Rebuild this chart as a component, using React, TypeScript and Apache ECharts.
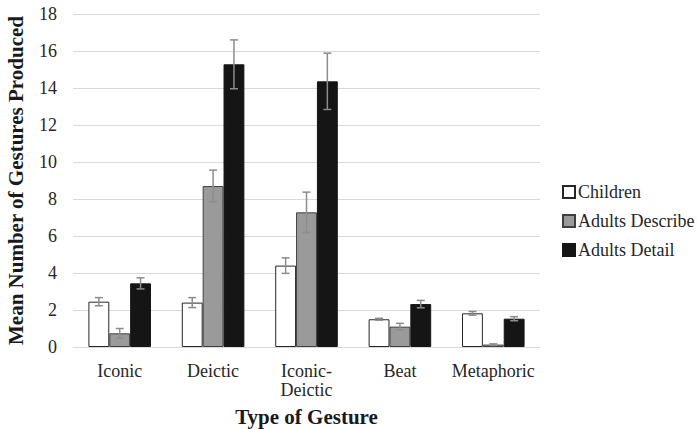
import React, { useEffect, useRef } from "react";
import * as echarts from "echarts";

const categories = ["Iconic", "Deictic", "Iconic-\nDeictic", "Beat", "Metaphoric"];
const seriesNames = ["Children", "Adults Describe", "Adults Detail"];
const children = [2.45, 2.4, 4.4, 1.5, 1.82];
const childrenErr = [0.22, 0.27, 0.42, 0.05, 0.1];
const describe = [0.74, 8.7, 7.28, 1.1, 0.13];
const describeErr = [0.26, 0.86, 1.09, 0.18, 0.04];
const detail = [3.44, 15.28, 14.36, 2.32, 1.53];
const detailErr = [0.3, 1.32, 1.52, 0.2, 0.11];
const yTicks = { min: 0, max: 18, interval: 2 };

const fills = ["#ffffff", "#9a9a9a", "#151515"];
const borders = ["#262626", "#404040", "#151515"];
const FONT = "Times New Roman, Liberation Serif, serif";
const GAP = 0.33;

export default function App() {
  const ref = useRef<HTMLDivElement>(null);
  useEffect(() => {
    if (!ref.current) return;
    const chart = echarts.init(ref.current, undefined, { renderer: "svg" });
    const values = [children, describe, detail];
    const errs = [childrenErr, describeErr, detailErr];
    const barSeries = values.map((v, k) => ({
      name: seriesNames[k],
      type: "bar",
      data: v,
      barGap: "0%",
      barCategoryGap: GAP * 100 + "%",
      itemStyle: { color: fills[k], borderColor: borders[k], borderWidth: 1 },
      z: 2,
    }));
    const errSeries = values.map((v, k) => ({
      name: "err" + k,
      type: "custom",
      z: 5,
      data: v.map((val, i) => [i, val - errs[k][i], val + errs[k][i]]),
      encode: { x: 0, y: [1, 2] },
      renderItem: (params: any, api: any) => {
        const idx = api.value(0);
        const lo = api.coord([idx, api.value(1)]);
        const hi = api.coord([idx, api.value(2)]);
        const band = api.size([1, 0])[0];
        const bw = (band * (1 - GAP)) / 3;
        const x = lo[0] + (k - 1) * bw;
        const cap = 4;
        const style = { stroke: "#8c8c8c", lineWidth: 1.5, fill: "none" };
        return {
          type: "group",
          children: [
            { type: "line", shape: { x1: x, y1: lo[1], x2: x, y2: hi[1] }, style },
            { type: "line", shape: { x1: x - cap, y1: lo[1], x2: x + cap, y2: lo[1] }, style },
            { type: "line", shape: { x1: x - cap, y1: hi[1], x2: x + cap, y2: hi[1] }, style },
          ],
        };
      },
    }));
    chart.setOption({
      animation: false,
      textStyle: { fontFamily: FONT },
      grid: { left: 73, right: 157, top: 14, bottom: 82, outerBoundsMode: "none", containLabel: false },
      legend: {
        data: seriesNames,
        orient: "vertical",
        left: 562,
        top: 183,
        padding: 0,
        itemWidth: 12,
        itemHeight: 12,
        itemGap: 11,
        icon: "rect",
        textStyle: { fontFamily: FONT, fontWeight: "normal", fontSize: 18, color: "#262626", padding: [0, 0, 0, -2] },
      },
      xAxis: {
        type: "category",
        data: categories,
        axisTick: { show: false },
        axisLine: { lineStyle: { color: "#d9d9d9", width: 1 } },
        axisLabel: { interval: 0, fontFamily: FONT, fontWeight: "normal", fontSize: 18, color: "#262626", margin: 14, lineHeight: 19 },
        name: "Type of Gesture",
        nameLocation: "middle",
        nameGap: 59,
        nameTextStyle: { fontFamily: FONT, fontSize: 21, fontWeight: "bold", color: "#1a1a1a" },
      },
      yAxis: {
        type: "value",
        min: yTicks.min,
        max: yTicks.max,
        interval: yTicks.interval,
        axisLine: { show: false },
        axisTick: { show: false },
        splitLine: { lineStyle: { color: "#d9d9d9", width: 1 } },
        axisLabel: { fontFamily: FONT, fontWeight: "normal", fontSize: 18, color: "#262626", margin: 16 },
        name: "Mean Number of Gestures Produced",
        nameLocation: "middle",
        nameGap: 47,
        nameTextStyle: { fontFamily: FONT, fontSize: 21, fontWeight: "bold", color: "#1a1a1a" },
      },
      series: [...barSeries, ...errSeries],
    });
    return () => chart.dispose();
  }, []);
  return <div ref={ref} style={{ width: 697, height: 429, position: "absolute", left: 0, top: 0 }} />;
}
